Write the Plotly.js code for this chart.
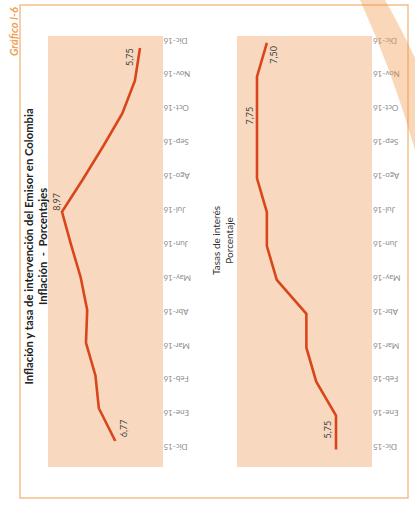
<!DOCTYPE html>
<html><head><meta charset="utf-8">
<script src="https://cdn.plot.ly/plotly-3.0.1.min.js"></script>
<style>html,body{margin:0;padding:0;background:#fff}#chart{width:415px;height:506px}</style>
</head><body><div id="chart"></div>
<script>
// ---- data ----
const months = ['Dic-15','Ene-16','Feb-16','Mar-16','Abr-16','May-16','Jun-16','Jul-16','Ago-16','Sep-16','Oct-16','Nov-16','Dic-16'];
const inflation = [6.77, 7.45, 7.59, 7.98, 7.93, 8.20, 8.60, 8.97, 8.10, 7.27, 6.48, 5.96, 5.75];
const policyRate = [5.75, 5.75, 6.25, 6.50, 6.50, 7.25, 7.50, 7.50, 7.75, 7.75, 7.75, 7.75, 7.50];
const inflationLabelIdx = [0, 7, 12];
const rateLabelIdx = [0, 10, 12];
const chartTitle = 'Inflación y tasa de intervención del Emisor en Colombia';
const chartSubtitle = 'Inflación\u00a0\u00a0-\u00a0\u00a0Porcentajes';
const rateTitle = 'Tasas de interés<br>Porcentaje';
const figLabel = 'Gráfico I-6';

// ---- helpers (pixel -> paper) ----
const W = 415, H = 506;
const px = x => x / W;
const py = y => 1 - y / H;
const fmt = v => v.toFixed(2).replace('.', ',');

const lineColor = '#d9461b';
const peach = '#f8d8be';
const FONT = 'Lato, "Open Sans", sans-serif';
const tickFont = {family: FONT, size: 8, color: '#8c8c8c'};
const yDom = [py(467), py(36)];
const leftDom = [px(48), px(163)];
const rightDom = [px(237), px(372)];

const traces = [
  {x: inflation, y: months, xaxis: 'x', yaxis: 'y', type: 'scatter', mode: 'lines',
   line: {color: lineColor, width: 2.6}, hoverinfo: 'skip'},
  // carrier for the left panel's month axis (not visible)
  {x: inflation, y: months, xaxis: 'x', yaxis: 'y4', type: 'scatter', mode: 'lines',
   line: {color: 'rgba(0,0,0,0)', width: 0}, opacity: 0, hoverinfo: 'skip'},
  {x: policyRate, y: months, xaxis: 'x2', yaxis: 'y3', type: 'scatter', mode: 'lines',
   line: {color: lineColor, width: 2.6}, hoverinfo: 'skip'}
];

const labelFont = {family: FONT, size: 9, color: '#444'};
const inflShift = [[8, 13], [-5, 10], [-10, -9]];
const rateShift = [[-9, 20], [-7, -5], [7, -12]];
const annotations = [];
inflationLabelIdx.forEach((i, k) => annotations.push({
  xref: 'x', yref: 'y', x: inflation[i], y: months[i], text: fmt(inflation[i]),
  showarrow: false, textangle: -90, font: labelFont,
  xshift: inflShift[k][0], yshift: inflShift[k][1]
}));
rateLabelIdx.forEach((i, k) => annotations.push({
  xref: 'x2', yref: 'y3', x: policyRate[i], y: months[i], text: fmt(policyRate[i]),
  showarrow: false, textangle: -90, font: labelFont,
  xshift: rateShift[k][0], yshift: rateShift[k][1]
}));
annotations.push({
  xref: 'paper', yref: 'paper', x: px(35.5), y: py(247), xanchor: 'center', yanchor: 'middle',
  text: '<b>' + chartTitle + '</b><br><b>' + chartSubtitle + '</b>', showarrow: false, textangle: -90,
  font: {family: FONT, size: 11.3, color: '#222'}
});
annotations.push({
  xref: 'paper', yref: 'paper', x: px(222), y: py(241), xanchor: 'center', yanchor: 'middle',
  text: rateTitle, showarrow: false, textangle: -90,
  font: {family: FONT, size: 10, color: '#333'}
});
annotations.push({
  xref: 'paper', yref: 'paper', x: px(14), y: py(32), xanchor: 'center', yanchor: 'middle',
  text: '<b><i>' + figLabel + '</i></b>', showarrow: false, textangle: -90,
  font: {family: FONT, size: 11, color: '#f0a055'}
});

const tickAxis = {
  type: 'category', categoryorder: 'array', categoryarray: months,
  range: [-0.52, 12.2], showgrid: false, zeroline: false, showline: false, ticks: '',
  tickangle: 180, tickfont: tickFont
};

const layout = {
  width: W, height: H, margin: {l: 0, r: 0, t: 0, b: 0},
  paper_bgcolor: '#ffffff', plot_bgcolor: 'rgba(0,0,0,0)', showlegend: false,
  xaxis: {domain: leftDom, range: [9.548, 4.80], visible: false, anchor: 'y'},
  yaxis: {type: 'category', categoryorder: 'array', categoryarray: months, domain: yDom,
    range: [-0.794, 12.366], visible: false, anchor: 'x'},
  yaxis4: Object.assign({}, tickAxis, {domain: yDom, anchor: 'free', position: px(163.5), side: 'left'}),
  xaxis2: {domain: rightDom, range: [8.256, 4.839], visible: false, anchor: 'y3'},
  yaxis3: Object.assign({}, tickAxis, {domain: yDom, anchor: 'free', position: px(373), side: 'left'}),
  annotations: annotations,
  shapes: [
    {type: 'rect', xref: 'paper', yref: 'paper', x0: leftDom[0], x1: leftDom[1], y0: yDom[0], y1: yDom[1],
     fillcolor: peach, line: {width: 0}, layer: 'below'},
    {type: 'rect', xref: 'paper', yref: 'paper', x0: rightDom[0], x1: rightDom[1], y0: yDom[0], y1: yDom[1],
     fillcolor: peach, line: {width: 0}, layer: 'below'},
    {type: 'rect', xref: 'paper', yref: 'paper', x0: px(20), x1: px(408), y0: py(498), y1: py(5),
     line: {color: '#f4be8c', width: 1.5}, layer: 'below'},
    {type: 'path', xref: 'paper', yref: 'paper', layer: 'above',
     path: 'M' + px(360) + ',' + py(0) + ' L' + px(385) + ',' + py(0) +
           ' Q' + px(402) + ',' + py(30) + ' ' + px(415) + ',' + py(58) +
           ' L' + px(415) + ',' + py(150) +
           ' Q' + px(392) + ',' + py(70) + ' ' + px(360) + ',' + py(0) + ' Z',
     fillcolor: 'rgba(242,150,70,0.38)', line: {width: 0}}
  ]
};

Plotly.newPlot('chart', traces, layout, {staticPlot: true, displayModeBar: false});
</script>
</body></html>
